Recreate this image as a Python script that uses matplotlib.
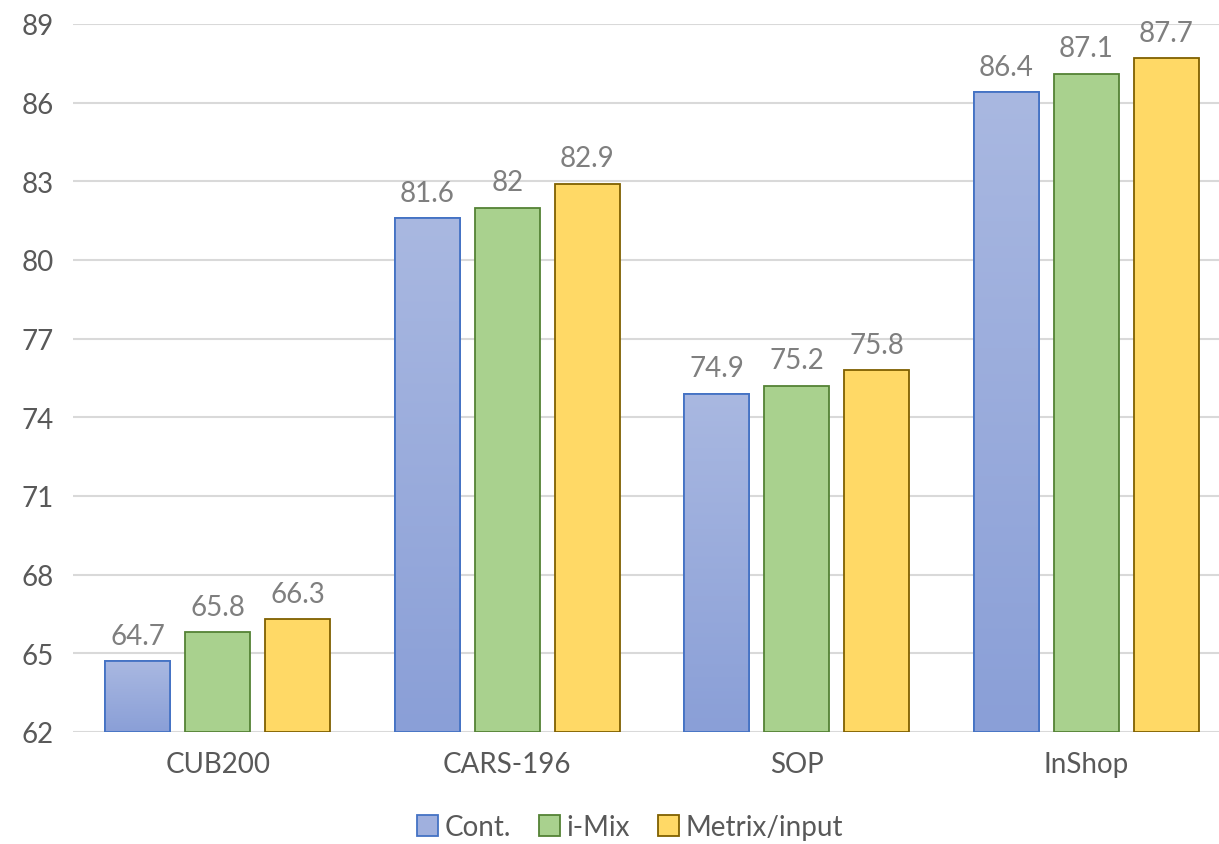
import numpy as np
import matplotlib.pyplot as plt
from matplotlib.colors import LinearSegmentedColormap
from matplotlib.patches import Patch

categories = ["CUB200", "CARS-196", "SOP", "InShop"]
series_names = ["Cont.", "i-Mix", "Metrix/input"]
cont = [64.7, 81.6, 74.9, 86.4]
imix = [65.8, 82, 75.2, 87.1]
metrix = [66.3, 82.9, 75.8, 87.7]
label_text = [["64.7", "81.6", "74.9", "86.4"],
              ["65.8", "82", "75.2", "87.1"],
              ["66.3", "82.9", "75.8", "87.7"]]
yticks = [62, 65, 68, 71, 74, 77, 80, 83, 86, 89]

plt.rcParams['font.family'] = ['Lato', 'DejaVu Sans']

fills = ["#A0B0DE", "#A9D18E", "#FFD966"]
edges = ["#4472C4", "#548235", "#7F6000"]
blue_cmap = LinearSegmentedColormap.from_list("bl", ["#8A9FD7", "#A9B8E1"])

fig = plt.figure(figsize=(12.19, 8.45), dpi=100)
ax = fig.add_axes([73 / 1219, 112 / 845, 1158 / 1219, 708 / 845])

x = np.arange(len(categories))
w = 0.224
step = 0.276
ymin, ymax = 62, 89

for i, vals in enumerate([cont, imix, metrix]):
    bars = ax.bar(x + (i - 1) * step, np.array(vals) - ymin, w, bottom=ymin,
                  color=fills[i], edgecolor=edges[i], linewidth=1.3, zorder=3)
    for b, txt in zip(bars, label_text[i]):
        top = b.get_y() + b.get_height()
        if i == 0:
            # vertical gradient fill for the blue bars
            grad = np.linspace(0, 1, 256).reshape(-1, 1)
            im = ax.imshow(grad, cmap=blue_cmap, origin='lower', aspect='auto',
                           extent=[b.get_x(), b.get_x() + b.get_width(), ymin, top],
                           zorder=3.5)
            im.set_clip_path(b)
            ax.bar(b.get_x() + b.get_width() / 2, b.get_height(), w, bottom=ymin,
                   fill=False, edgecolor=edges[i], linewidth=1.3, zorder=4)
        ax.annotate(txt, (b.get_x() + b.get_width() / 2, top), xytext=(0, 9),
                    textcoords='offset points', ha='center', va='bottom',
                    fontsize=20, color="#7F7F7F")

ax.set_xlim(-0.5, 3.5)
ax.set_ylim(ymin, ymax)
ax.set_yticks(yticks)
ax.set_xticks(x)
ax.set_xticklabels(categories)
ax.tick_params(axis='both', length=0, labelsize=20, labelcolor="#595959")
ax.tick_params(axis='x', pad=14)
ax.tick_params(axis='y', pad=14)
ax.grid(axis='y', color="#D9D9D9", linewidth=1.5, zorder=0)
for s in ax.spines.values():
    s.set_visible(False)

handles = [Patch(facecolor=fills[i], edgecolor=edges[i], linewidth=1.3) for i in range(3)]
fig.legend(handles, series_names, loc='center', bbox_to_anchor=(0.517, 0.02),
           ncol=3, frameon=False, fontsize=20, labelcolor="#595959",
           handlelength=0.75, handleheight=0.75, handletextpad=0.25, columnspacing=1.0)

fig.savefig("out.png", dpi=100)
